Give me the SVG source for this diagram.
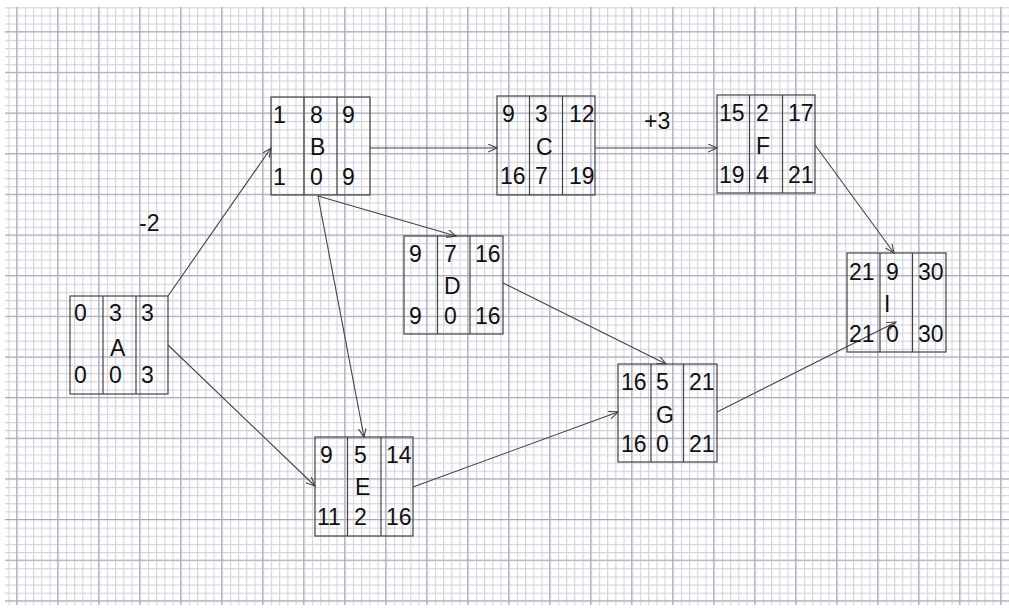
<svg xmlns="http://www.w3.org/2000/svg" width="1009" height="611" viewBox="0 0 1009 611">
<style>
.box{fill:none;stroke:#444;stroke-width:1.2}
.t{font-family:"Liberation Sans",Arial,sans-serif;font-size:23px;fill:#111}
.edge{fill:none;stroke:#444;stroke-width:1.1;marker-end:url(#arr)}
</style>
<defs>
<pattern id="minor" patternUnits="userSpaceOnUse" x="0.3" y="7.3" width="8.2" height="8.13">
<path d="M0.5,0 V8.13 M0,0.5 H8.2" fill="none" stroke="#d3d3dd" stroke-width="1.2"/>
</pattern>
<pattern id="major" patternUnits="userSpaceOnUse" x="16.2" y="31.2" width="41" height="40.65">
<path d="M0.5,0 V40.65 M0,0.5 H41" fill="none" stroke="#a9a9bb" stroke-width="1.2"/>
</pattern>
<marker id="arr" markerUnits="userSpaceOnUse" markerWidth="12" markerHeight="10" refX="9" refY="4" orient="auto">
<path d="M0,0 L9,4 L0,8" fill="none" stroke="#444" stroke-width="1.1"/>
</marker>
</defs>
<rect width="1009" height="611" fill="#fff"/>
<rect x="5" y="7" width="1004" height="598" fill="url(#minor)"/>
<rect x="5" y="7" width="1004" height="598" fill="url(#major)"/>

<g id="connectors">
<line class="edge" x1="168" y1="296" x2="271" y2="148"/>
<line class="edge" x1="168" y1="345" x2="315" y2="486"/>
<line class="edge" x1="370" y1="148" x2="497" y2="148"/>
<line class="edge" x1="318" y1="196" x2="456" y2="236"/>
<line class="edge" x1="318" y1="196" x2="364" y2="437"/>
<line class="edge" x1="595" y1="148" x2="717" y2="148"/>
<line class="edge" x1="815" y1="145" x2="894" y2="253"/>
<line class="edge" x1="503" y1="283" x2="666" y2="364"/>
<line class="edge" x1="413" y1="487" x2="618" y2="412"/>
<line class="edge" x1="717" y1="412" x2="896" y2="322"/>
<text class="t" x="139" y="231">-2</text>
<text class="t" x="644" y="129">+3</text>
</g>

<g id="node-A" transform="translate(70,296)">
<rect class="box" x="0" y="0" width="98" height="98"/>
<line class="box" x1="33" y1="0" x2="33" y2="98"/><line class="box" x1="66" y1="0" x2="66" y2="98"/>
<text class="t" x="4" y="25">0</text><text class="t" x="39" y="25">3</text><text class="t" x="71" y="25">3</text>
<text class="t" x="40" y="60">A</text>
<text class="t" x="4" y="87">0</text><text class="t" x="39" y="87">0</text><text class="t" x="71" y="87">3</text>
</g>

<g id="node-B" transform="translate(271,97)">
<rect class="box" x="0" y="0" width="99" height="98"/>
<line class="box" x1="33" y1="0" x2="33" y2="98"/><line class="box" x1="66" y1="0" x2="66" y2="98"/>
<text class="t" x="2" y="26">1</text><text class="t" x="39" y="26">8</text><text class="t" x="71" y="26">9</text>
<text class="t" x="39" y="58">B</text>
<text class="t" x="2" y="88">1</text><text class="t" x="39" y="88">0</text><text class="t" x="71" y="88">9</text>
</g>

<g id="node-C" transform="translate(497,96)">
<rect class="box" x="0" y="0" width="98" height="99"/>
<line class="box" x1="32.5" y1="0" x2="32.5" y2="99"/><line class="box" x1="65.5" y1="0" x2="65.5" y2="99"/>
<text class="t" x="5" y="26">9</text><text class="t" x="38" y="26">3</text><text class="t" x="72" y="26">12</text>
<text class="t" x="39" y="59">C</text>
<text class="t" x="3" y="88">16</text><text class="t" x="38" y="88">7</text><text class="t" x="72" y="88">19</text>
</g>

<g id="node-F" transform="translate(717,95)">
<rect class="box" x="0" y="0" width="98" height="98"/>
<line class="box" x1="32.5" y1="0" x2="32.5" y2="98"/><line class="box" x1="65.5" y1="0" x2="65.5" y2="98"/>
<text class="t" x="2" y="26">15</text><text class="t" x="39" y="26">2</text><text class="t" x="71" y="26">17</text>
<text class="t" x="39" y="59">F</text>
<text class="t" x="2" y="88">19</text><text class="t" x="39" y="88">4</text><text class="t" x="71" y="88">21</text>
</g>

<g id="node-D" transform="translate(404,236)">
<rect class="box" x="0" y="0" width="99" height="98"/>
<line class="box" x1="33.5" y1="0" x2="33.5" y2="98"/><line class="box" x1="66" y1="0" x2="66" y2="98"/>
<text class="t" x="5" y="26">9</text><text class="t" x="40" y="26">7</text><text class="t" x="71" y="26">16</text>
<text class="t" x="40" y="58">D</text>
<text class="t" x="5" y="88">9</text><text class="t" x="40" y="88">0</text><text class="t" x="71" y="88">16</text>
</g>

<g id="node-E" transform="translate(315,437)">
<rect class="box" x="0" y="0" width="98" height="99"/>
<line class="box" x1="32.5" y1="0" x2="32.5" y2="99"/><line class="box" x1="66" y1="0" x2="66" y2="99"/>
<text class="t" x="5" y="26">9</text><text class="t" x="39" y="26">5</text><text class="t" x="71" y="26">14</text>
<text class="t" x="40" y="58">E</text>
<text class="t" x="2" y="88">11</text><text class="t" x="39" y="88">2</text><text class="t" x="71" y="88">16</text>
</g>

<g id="node-G" transform="translate(618,364)">
<rect class="box" x="0" y="0" width="99" height="98"/>
<line class="box" x1="33" y1="0" x2="33" y2="98"/><line class="box" x1="65.5" y1="0" x2="65.5" y2="98"/>
<text class="t" x="3" y="26">16</text><text class="t" x="38" y="26">5</text><text class="t" x="71" y="26">21</text>
<text class="t" x="38" y="59">G</text>
<text class="t" x="3" y="88">16</text><text class="t" x="38" y="88">0</text><text class="t" x="71" y="88">21</text>
</g>

<g id="node-I" transform="translate(847,253)">
<rect class="box" x="0" y="0" width="99" height="99"/>
<line class="box" x1="33" y1="0" x2="33" y2="99"/><line class="box" x1="65.5" y1="0" x2="65.5" y2="99"/>
<text class="t" x="2" y="27">21</text><text class="t" x="39" y="27">9</text><text class="t" x="71" y="27">30</text>
<text class="t" x="37" y="59">I</text>
<text class="t" x="2" y="89">21</text><text class="t" x="39" y="89">0</text><text class="t" x="71" y="89">30</text>
</g>
</svg>
